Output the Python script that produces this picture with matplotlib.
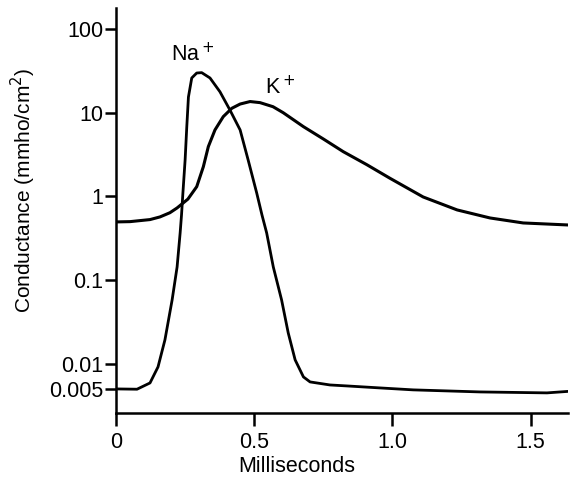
import numpy as np
import matplotlib
matplotlib.use("Agg")
import matplotlib.pyplot as plt

# values (time in ms, conductance in mmho/cm^2)
na_t = [0, 0.076, 0.123, 0.152, 0.177, 0.203, 0.221, 0.232, 0.237, 0.242,
        0.250, 0.256, 0.262, 0.274, 0.292, 0.310, 0.340, 0.376, 0.412, 0.449,
        0.478, 0.509, 0.528, 0.545, 0.569, 0.599, 0.623, 0.648, 0.678, 0.702,
        0.774, 0.836, 0.955, 1.075, 1.317, 1.559, 1.635]
na_g = [0.00504, 0.00500, 0.00594, 0.00923, 0.0194, 0.0582, 0.144, 0.367, 0.602, 1.10,
        2.73, 6.76, 15.4, 26.0, 29.8, 30.1, 26.0, 17.8, 10.8, 6.23,
        2.73, 1.10, 0.602, 0.367, 0.144, 0.0582, 0.0235, 0.0112, 0.00701, 0.00611,
        0.00562, 0.00547, 0.00518, 0.00491, 0.00464, 0.00452, 0.00471]

k_t = [0, 0.051, 0.123, 0.159, 0.195, 0.221, 0.260, 0.292, 0.316, 0.334,
       0.358, 0.388, 0.419, 0.449, 0.485, 0.521, 0.568, 0.605, 0.678, 0.750,
       0.822, 0.907, 0.991, 1.111, 1.234, 1.353, 1.473, 1.635]
k_g = [0.497, 0.501, 0.53, 0.57, 0.64, 0.73, 0.93, 1.31, 2.27, 3.94,
       6.23, 8.98, 11.3, 12.7, 13.6, 13.2, 11.8, 10.0, 6.82, 4.86,
       3.43, 2.40, 1.65, 0.987, 0.691, 0.554, 0.483, 0.457]

y_ticks = [0.005, 0.01, 0.1, 1, 10, 100]
y_ticklabels = ["0.005", "0.01", "0.1", "1", "10", "100"]
x_ticks = [0, 0.5, 1.0, 1.5]
x_ticklabels = ["0", "0.5", "1.0", "1.5"]

plt.rcParams["font.family"] = ["Liberation Sans", "DejaVu Sans"]

fig = plt.figure(figsize=(5.70, 4.82), dpi=100)
ax = fig.add_axes([116 / 570, (482 - 413) / 482, 452 / 570, 405 / 482])

ax.plot(na_t, na_g, color="black", lw=2.0, solid_joinstyle="round", solid_capstyle="round")
ax.plot(k_t, k_g, color="black", lw=2.2, solid_joinstyle="round", solid_capstyle="round")

ax.set_yscale("log")
ax.set_xlim(0, 1.635)
ax.set_ylim(0.0026, 178)
ax.set_yticks(y_ticks)
ax.set_yticklabels(y_ticklabels)
ax.yaxis.set_minor_locator(matplotlib.ticker.NullLocator())
ax.set_xticks(x_ticks)
ax.set_xticklabels(x_ticklabels)

for s in ["top", "right"]:
    ax.spines[s].set_visible(False)
for s in ["left", "bottom"]:
    ax.spines[s].set_linewidth(1.8)
ax.tick_params(axis="y", direction="out", length=8, width=1.8, labelsize=15.5, pad=1)
ax.tick_params(axis="x", direction="out", length=9, width=1.8, labelsize=15.5, pad=5)

ax.set_xlabel("Milliseconds", fontsize=15.5, va="center")
ax.xaxis.set_label_coords(0.40, -0.131)
ax.set_ylabel("Conductance (mmho/cm$^2$)", fontsize=15, va="center")
ax.yaxis.set_label_coords(-0.205, 0.55)

ax.text(0.279, 49, "Na$^+$", fontsize=15.5, ha="center", va="center")
ax.text(0.593, 19.8, "K$^+$", fontsize=15.5, ha="center", va="center")

fig.savefig("out.png", dpi=100)
